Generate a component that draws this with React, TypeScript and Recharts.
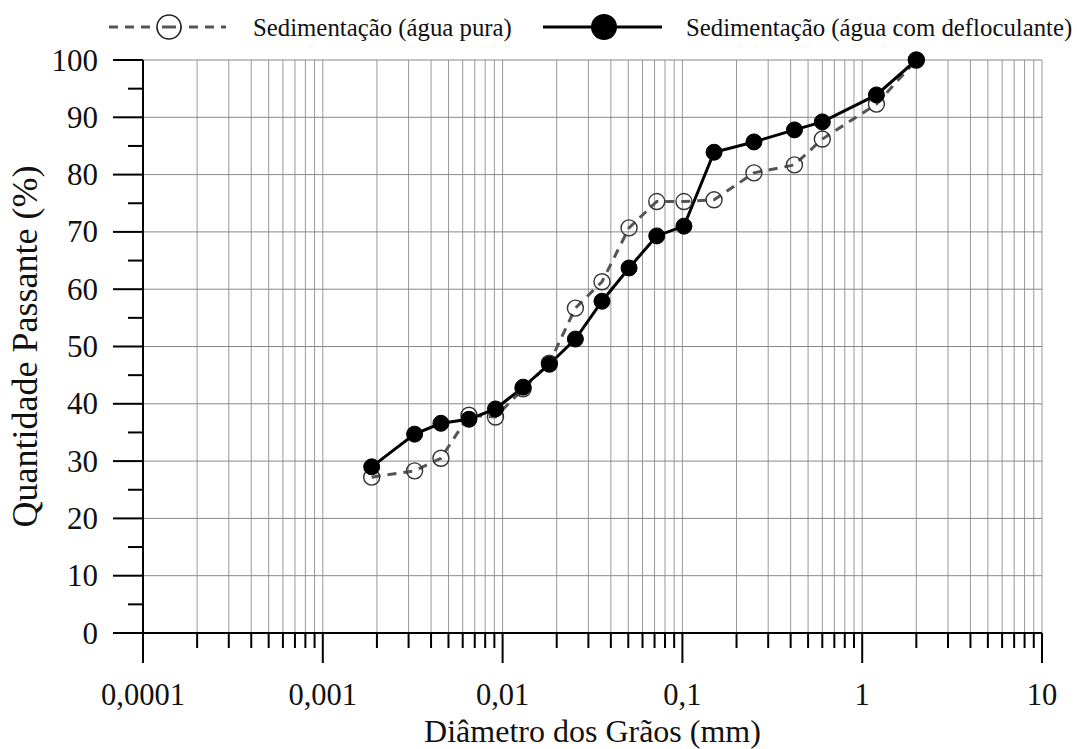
import React from 'react';
import { LineChart, Line, XAxis, YAxis, CartesianGrid, ReferenceLine } from 'recharts';

// grain diameters (mm) shared by both tests
const diameters = [
  0.00187, 0.00324, 0.00454, 0.0065, 0.00913, 0.013, 0.0182, 0.0254, 0.0357,
  0.0505, 0.072, 0.102, 0.15, 0.25, 0.42, 0.6, 1.2, 2.0,
];
// percent passing, distilled water
const passingPure = [
  27.2, 28.3, 30.5, 38.0, 37.7, 42.6, 47.1, 56.7, 61.3,
  70.7, 75.3, 75.3, 75.6, 80.3, 81.7, 86.2, 92.3, 100,
];
// percent passing, water with deflocculant
const passingDefloc = [
  29.0, 34.7, 36.6, 37.3, 39.1, 42.9, 46.9, 51.3, 57.9,
  63.7, 69.3, 71.0, 83.9, 85.7, 87.8, 89.2, 93.9, 100,
];

const decades = [0.0001, 0.001, 0.01, 0.1, 1];
const multipliers = [1, 2, 3, 4, 5, 6, 7, 8, 9];
const xTicks = [...decades.flatMap((d) => multipliers.map((m) => +(d * m).toPrecision(6))), 10];
const yTicks = [0, 5, 10, 15, 20, 25, 30, 35, 40, 45, 50, 55, 60, 65, 70, 75, 80, 85, 90, 95, 100];
const yGrid = [10, 20, 30, 40, 50, 60, 70, 80, 90, 100];

const FONT = 'Liberation Serif, Tinos, Times New Roman, Times, serif';

const purePoints = diameters.map((x, i) => ({ x, y: passingPure[i] }));
const deflocPoints = diameters.map((x, i) => ({ x, y: passingDefloc[i] }));

const isDecade = (v: number) => {
  const l = Math.log10(v);
  return Math.abs(l - Math.round(l)) < 1e-9;
};
const fmtX = (v: number) => String(v).replace('.', ',');

function XTick(props: any) {
  const { x, y, payload } = props;
  const major = isDecade(payload.value);
  return (
    <g>
      <line x1={x} x2={x} y1={y} y2={y + (major ? 30 : 15)} stroke="#000" strokeWidth={2} />
      {major && (
        <text x={x} y={y + 62} textAnchor="middle" dominantBaseline="central"
          style={{ fontFamily: FONT }} fontSize={30.5} fill="#111">
          {fmtX(payload.value)}
        </text>
      )}
    </g>
  );
}

function YTick(props: any) {
  const { x, y, payload } = props;
  const major = payload.value % 10 === 0;
  return (
    <g>
      <line x1={x - (major ? 30 : 15)} x2={x} y1={y} y2={y} stroke="#000" strokeWidth={2} />
      {major && (
        <text x={x - 45} y={y} textAnchor="end" dominantBaseline="central"
          style={{ fontFamily: FONT }} fontSize={31} fill="#111">
          {payload.value}
        </text>
      )}
    </g>
  );
}

const OpenDot = (props: any) => {
  const { cx, cy, index } = props;
  return <circle key={`o${index}`} cx={cx} cy={cy} r={8} fill="none" stroke="#333" strokeWidth={1.4} />;
};
const FilledDot = (props: any) => {
  const { cx, cy, index } = props;
  return <circle key={`f${index}`} cx={cx} cy={cy} r={8} fill="#000" stroke="#000" strokeWidth={1} />;
};

function LegendBar() {
  return (
    <svg width={1077} height={56} style={{ position: 'absolute', left: 0, top: 0 }}>
      <line x1={109} x2={226} y1={27} y2={27} stroke="#555" strokeWidth={3} strokeDasharray="9 7" />
      <circle cx={169} cy={27} r={12} fill="#fff" stroke="#222" strokeWidth={1.6} />
      <line x1={162} x2={176} y1={27} y2={27} stroke="#555" strokeWidth={3} />
      <text x={253} y={27} dominantBaseline="central" style={{ fontFamily: FONT }} fontSize={24.8} fill="#111">
        Sedimentação (água pura)
      </text>
      <line x1={543} x2={662} y1={27} y2={27} stroke="#000" strokeWidth={3} />
      <circle cx={604} cy={27} r={13} fill="#000" />
      <text x={686} y={27} dominantBaseline="central" style={{ fontFamily: FONT }} fontSize={24.8} fill="#111">
        Sedimentação (água com defloculante)
      </text>
    </svg>
  );
}

export default function App() {
  return (
    <div style={{ position: 'absolute', left: 0, top: 0, width: 1077, height: 749, background: '#fff' }}>
      <LineChart width={1077} height={749} margin={{ top: 60, right: 35, left: 0, bottom: 0 }}>
        <CartesianGrid horizontal={false} stroke="#999" strokeWidth={1} />
        {yGrid.map((v) => (
          <ReferenceLine key={v} y={v} stroke="#888" strokeWidth={1} />
        ))}
        <XAxis
          type="number"
          dataKey="x"
          scale="log"
          domain={[0.0001, 10]}
          allowDataOverflow
          ticks={xTicks}
          interval={0}
          tickLine={false}
          tickSize={0}
          tickMargin={0}
          tick={<XTick />}
          axisLine={{ stroke: '#000', strokeWidth: 2 }}
          height={116}
          label={{ value: 'Diâmetro dos Grãos (mm)', position: 'insideBottom', offset: 7,
            style: { fontFamily: FONT, fontSize: 32, fill: '#111' } }}
        />
        <YAxis
          type="number"
          domain={[0, 100]}
          ticks={yTicks}
          interval={0}
          tickLine={false}
          tickSize={0}
          tickMargin={0}
          tick={<YTick />}
          axisLine={{ stroke: '#000', strokeWidth: 2 }}
          width={143}
          label={{ value: 'Quantidade Passante (%)', angle: -90, position: 'insideLeft', offset: 24,
            style: { fontFamily: FONT, fontSize: 36, fill: '#111', textAnchor: 'middle' } }}
        />
        <Line
          data={purePoints}
          dataKey="y"
          type="linear"
          stroke="#555"
          strokeWidth={3}
          strokeDasharray="9 7"
          dot={OpenDot}
          activeDot={false}
          isAnimationActive={false}
        />
        <Line
          data={deflocPoints}
          dataKey="y"
          type="linear"
          stroke="#000"
          strokeWidth={3}
          dot={FilledDot}
          activeDot={false}
          isAnimationActive={false}
        />
      </LineChart>
      <LegendBar />
    </div>
  );
}
